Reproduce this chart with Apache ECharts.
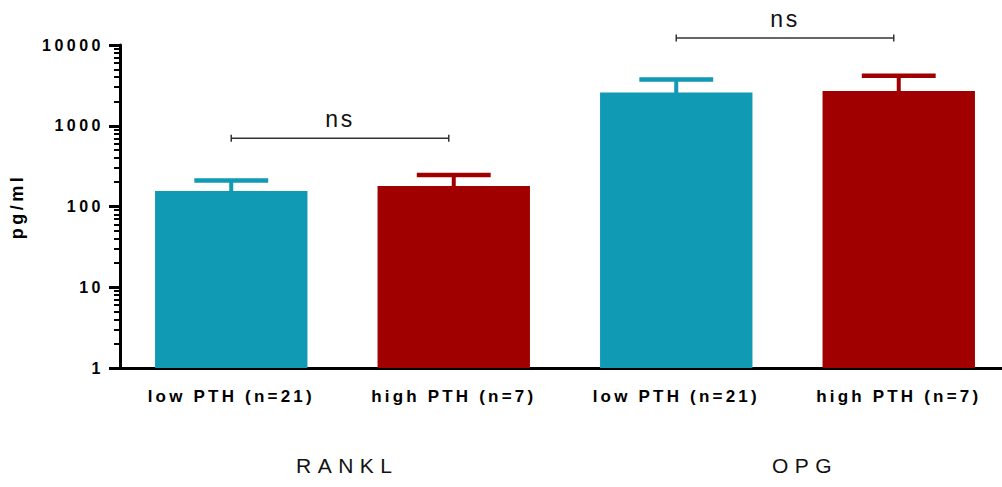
<!DOCTYPE html>
<html>
<head>
<meta charset="utf-8">
<script src="https://cdn.jsdelivr.net/npm/echarts@6/dist/echarts.min.js"></script>
<style>
  html, body { margin: 0; padding: 0; background: #fff; }
  #chart { width: 1002px; height: 487px; }
  /* wide tracking on the printed labels */
  #chart text[style*="16px"] { letter-spacing: 3.5px; }
  #chart text[style*="17px"] { letter-spacing: 3.2px; }
  #chart text[style*="18px"] { letter-spacing: 3.5px; }
  #chart text[style*="21px"] { letter-spacing: 6.5px; }
  #chart text[style*="23px"] { letter-spacing: 2.5px; }
</style>
</head>
<body>
<div id="chart"></div>
<script>
// Categories (bars in order) and the marker each group sits under
const categories = ['low PTH (n=21)', 'high PTH (n=7)', 'low PTH (n=21)', 'high PTH (n=7)'];
const groups = ['RANKL', 'OPG'];

// Mean concentration (pg/ml) and mean + SD
const means = [156, 179, 2580, 2700];
const upperSD = [210, 245, 3730, 4150];

// Log axis ticks
const yTickValues = [1, 10, 100, 1000, 10000];
const yTickLabels = ['1', '10', '100', '1000', '10000'];

// Comparisons: [from category, to category, bracket height (pg/ml)] and their labels
const comparisons = [[0, 1, 700], [2, 3, 12200]];
const comparisonLabels = ['ns', 'ns'];

const barColors = ['#119ab4', '#a00000'];
const FONT = 'Liberation Sans, Arial, sans-serif';

// minor ticks at 2..9 within each decade
const minorTicks = [];
for (let d = 0; d < yTickValues.length - 1; d++) {
  for (let m = 2; m <= 9; m++) minorTicks.push(m * yTickValues[d]);
}

const chart = echarts.init(document.getElementById('chart'), null, { renderer: 'svg' });

function renderErrorBar(params, api) {
  const i = api.value(0);
  const base = api.coord([i, api.value(1)]);
  const top = api.coord([i, api.value(2)]);
  const band = api.size([1, 0])[0];
  const half = band * 0.166;
  const color = barColors[i % 2];
  return {
    type: 'group',
    children: [
      { type: 'line', shape: { x1: base[0], y1: base[1] + 1, x2: top[0], y2: top[1] },
        style: { stroke: color, lineWidth: 4 } },
      { type: 'line', shape: { x1: top[0] - half, y1: top[1], x2: top[0] + half, y2: top[1] },
        style: { stroke: color, lineWidth: 4.5 } }
    ]
  };
}

function renderBracket(params, api) {
  const a = api.coord([api.value(0), api.value(2)]);
  const b = api.coord([api.value(1), api.value(2)]);
  const x2 = b[0] - 5;
  const h = 3.5;
  const stroke = { stroke: '#333', lineWidth: 1.5 };
  return {
    type: 'group',
    children: [
      { type: 'line', shape: { x1: a[0], y1: a[1], x2: x2, y2: a[1] }, style: stroke },
      { type: 'line', shape: { x1: a[0], y1: a[1] - h, x2: a[0], y2: a[1] + h }, style: stroke },
      { type: 'line', shape: { x1: x2, y1: a[1] - h, x2: x2, y2: a[1] + h }, style: stroke },
      { type: 'text', style: {
          text: comparisonLabels[params.dataIndex],
          x: (a[0] + x2) / 2, y: a[1] - 19,
          align: 'center', verticalAlign: 'middle',
          fontSize: 23, fontFamily: FONT, fill: '#111'
        } }
    ]
  };
}

const option = {
  animation: false,
  backgroundColor: '#fff',
  grid: { left: 120, top: 45, bottom: 119, width: 890, containLabel: false, outerBoundsMode: 'none' },
  xAxis: {
    type: 'category',
    data: categories,
    axisLine: { lineStyle: { color: '#000', width: 3 } },
    axisTick: { alignWithLabel: true, length: 7, lineStyle: { color: '#000', width: 3 } },
    axisLabel: { margin: 20, color: '#000', fontSize: 17, fontWeight: 'bold', fontFamily: FONT, interval: 0 },
    splitLine: { show: false }
  },
  yAxis: [
    {
      type: 'log', logBase: 10, min: 1, max: 10000,
      name: 'pg/ml', nameLocation: 'middle', nameGap: 94, nameRotate: 90,
      nameTextStyle: { color: '#000', fontSize: 18, fontWeight: 'bold', fontFamily: FONT },
      axisLine: { show: true, lineStyle: { color: '#000', width: 3 } },
      axisTick: { show: true, length: 11, customValues: yTickValues, lineStyle: { color: '#000', width: 3 } },
      axisLabel: {
        margin: 16, color: '#000', fontSize: 16, fontWeight: 'bold', fontFamily: FONT,
        customValues: yTickValues,
        formatter: v => yTickLabels[yTickValues.indexOf(Math.round(v))] ?? String(v)
      },
      splitLine: { show: false }
    },
    {
      type: 'log', logBase: 10, min: 1, max: 10000, position: 'left',
      axisLine: { show: false },
      axisTick: { show: true, length: 6, customValues: minorTicks, lineStyle: { color: '#000', width: 2 } },
      axisLabel: { show: false },
      splitLine: { show: false }
    }
  ],
  graphic: [
    { type: 'text', left: 296, top: 455, style: { text: groups[0], fontSize: 21, fontFamily: FONT, fill: '#111' } },
    { type: 'text', left: 772, top: 455, style: { text: groups[1], fontSize: 21, fontFamily: FONT, fill: '#111' } }
  ],
  series: [
    {
      type: 'bar',
      data: means,
      barWidth: '68.5%',
      itemStyle: { color: p => barColors[p.dataIndex % 2] },
      z: 2
    },
    {
      type: 'custom',
      data: categories.map((c, i) => [i, means[i], upperSD[i]]),
      encode: { x: 0, y: [1, 2] },
      renderItem: renderErrorBar,
      z: 3
    },
    {
      type: 'custom',
      data: comparisons,
      encode: { x: [0, 1], y: 2 },
      renderItem: renderBracket,
      clip: false,
      z: 4
    }
  ]
};

chart.setOption(option);
</script>
</body>
</html>
